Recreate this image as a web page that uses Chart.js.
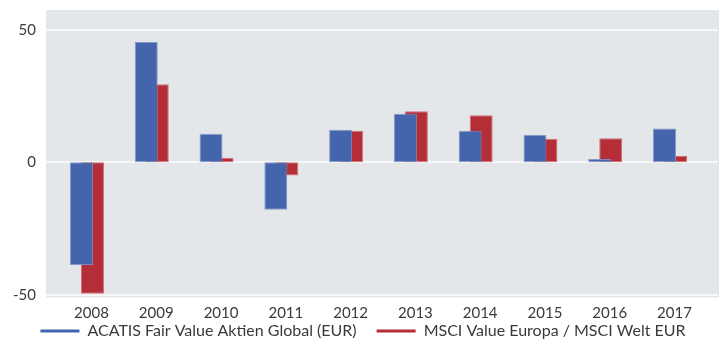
<!DOCTYPE html>
<html>
<head>
<meta charset="utf-8">
<script src="https://cdn.jsdelivr.net/npm/chart.js@4/dist/chart.umd.min.js"></script>
<style>
  html, body { margin: 0; padding: 0; background: #ffffff; }
  #wrap { width: 726px; height: 340px; }
</style>
</head>
<body>
<div id="wrap"><canvas id="c" width="726" height="340"></canvas></div>
<script>
// Annual returns in percent
const YEARS = ['2008', '2009', '2010', '2011', '2012', '2013', '2014', '2015', '2016', '2017'];
const ACATIS = [-38.7, 45.4, 10.8, -17.9, 12.3, 18.3, 11.9, 10.3, 1.3, 12.8];
const MSCI = [-49.6, 29.5, 1.7, -5.0, 11.9, 19.3, 17.8, 8.9, 9.1, 2.5];
const SERIES_NAMES = ['ACATIS Fair Value Aktien Global (EUR)', 'MSCI Value Europa / MSCI Welt EUR'];
const Y_TICKS = [-50, 0, 50];
const Y_MIN = -51;
const Y_MAX = 57.5;

const BLUE = '#4464ac';
const RED = '#b42d37';
const FAMILY = 'Lato, "Open Sans", sans-serif';
const TICK_FONT = { family: FAMILY, size: 15 };
const LEGEND_FONT = { family: FAMILY, size: 16 };
const TEXT = '#3a3a3a';

// Grey plot panel with white horizontal grid lines, a little wider than the category band
const plotPanel = {
  id: 'plotPanel',
  beforeDatasetsDraw(chart) {
    const { ctx, chartArea: a, scales: { y } } = chart;
    const left = a.left - 8.6;
    const right = a.right + 16.6;
    ctx.save();
    ctx.fillStyle = '#e4e7ea';
    ctx.fillRect(left, a.top, right - left, a.bottom - a.top);
    ctx.strokeStyle = '#f6f7f8';
    ctx.lineWidth = 2;
    y.ticks.forEach(t => {
      const py = Math.round(y.getPixelForValue(t.value));
      ctx.beginPath();
      ctx.moveTo(left, py);
      ctx.lineTo(right - 1, py);
      ctx.stroke();
    });
    ctx.restore();
  }
};

// The label padding also spaces the legend items apart; move the top of the
// legend up so the single row is centred in the strip it was given.
const legendRow = {
  id: 'legendRow',
  afterLayout(chart) {
    const lg = chart.legend;
    const mid = (lg.top + lg.bottom) / 2;
    const newTop = mid - lg.options.labels.padding - lg.options.labels.font.size / 2;
    lg.height += lg.top - newTop;
    lg.top = newTop;
  }
};

function noVerticalPadding(scale) {
  scale.paddingTop = 0;
  scale.paddingBottom = 0;
}

new Chart(document.getElementById('c'), {
  type: 'bar',
  data: {
    labels: YEARS,
    datasets: [
      {
        label: SERIES_NAMES[0],
        data: ACATIS,
        backgroundColor: BLUE,
        borderColor: 'rgba(120,145,200,0.9)',
        borderWidth: 1,
        borderSkipped: false
      },
      {
        label: SERIES_NAMES[1],
        data: MSCI,
        backgroundColor: RED,
        borderColor: 'rgba(205,100,108,0.9)',
        borderWidth: 1,
        borderSkipped: false
      }
    ]
  },
  options: {
    responsive: false,
    animation: false,
    devicePixelRatio: 1,
    categoryPercentage: 0.3395,
    barPercentage: 2.09,
    layout: { padding: { top: 10, bottom: 0, left: 0, right: 0 } },
    scales: {
      x: {
        offset: true,
        grid: { display: false, drawTicks: false },
        border: { display: false },
        afterFit(scale) { scale.height = 24.5; },
        ticks: { font: TICK_FONT, color: TEXT, padding: 7, labelOffset: 4.5, maxRotation: 0, autoSkip: false }
      },
      y: {
        min: Y_MIN,
        max: Y_MAX,
        grid: { display: false, drawTicks: false },
        border: { display: false },
        afterFit(scale) { scale.width = 54.6; noVerticalPadding(scale); },
        afterBuildTicks(scale) { scale.ticks = Y_TICKS.map(v => ({ value: v })); },
        ticks: { font: TICK_FONT, color: TEXT, padding: 18.6 }
      },
      yRight: {
        position: 'right',
        grid: { display: false, drawTicks: false },
        border: { display: false },
        ticks: { display: false },
        afterFit(scale) { scale.width = 23.6; noVerticalPadding(scale); }
      }
    },
    plugins: {
      tooltip: { enabled: false },
      legend: {
        position: 'bottom',
        maxHeight: 18,
        labels: {
          font: LEGEND_FONT,
          color: TEXT,
          padding: 20,
          usePointStyle: true,
          pointStyleWidth: 39,
          generateLabels() {
            return SERIES_NAMES.map((name, i) => ({
              text: name,
              fillStyle: [BLUE, RED][i],
              strokeStyle: [BLUE, RED][i],
              lineWidth: 3,
              pointStyle: 'line',
              fontColor: TEXT,
              datasetIndex: i,
              hidden: false
            }));
          }
        }
      }
    }
  },
  plugins: [plotPanel, legendRow]
});
</script>
</body>
</html>
